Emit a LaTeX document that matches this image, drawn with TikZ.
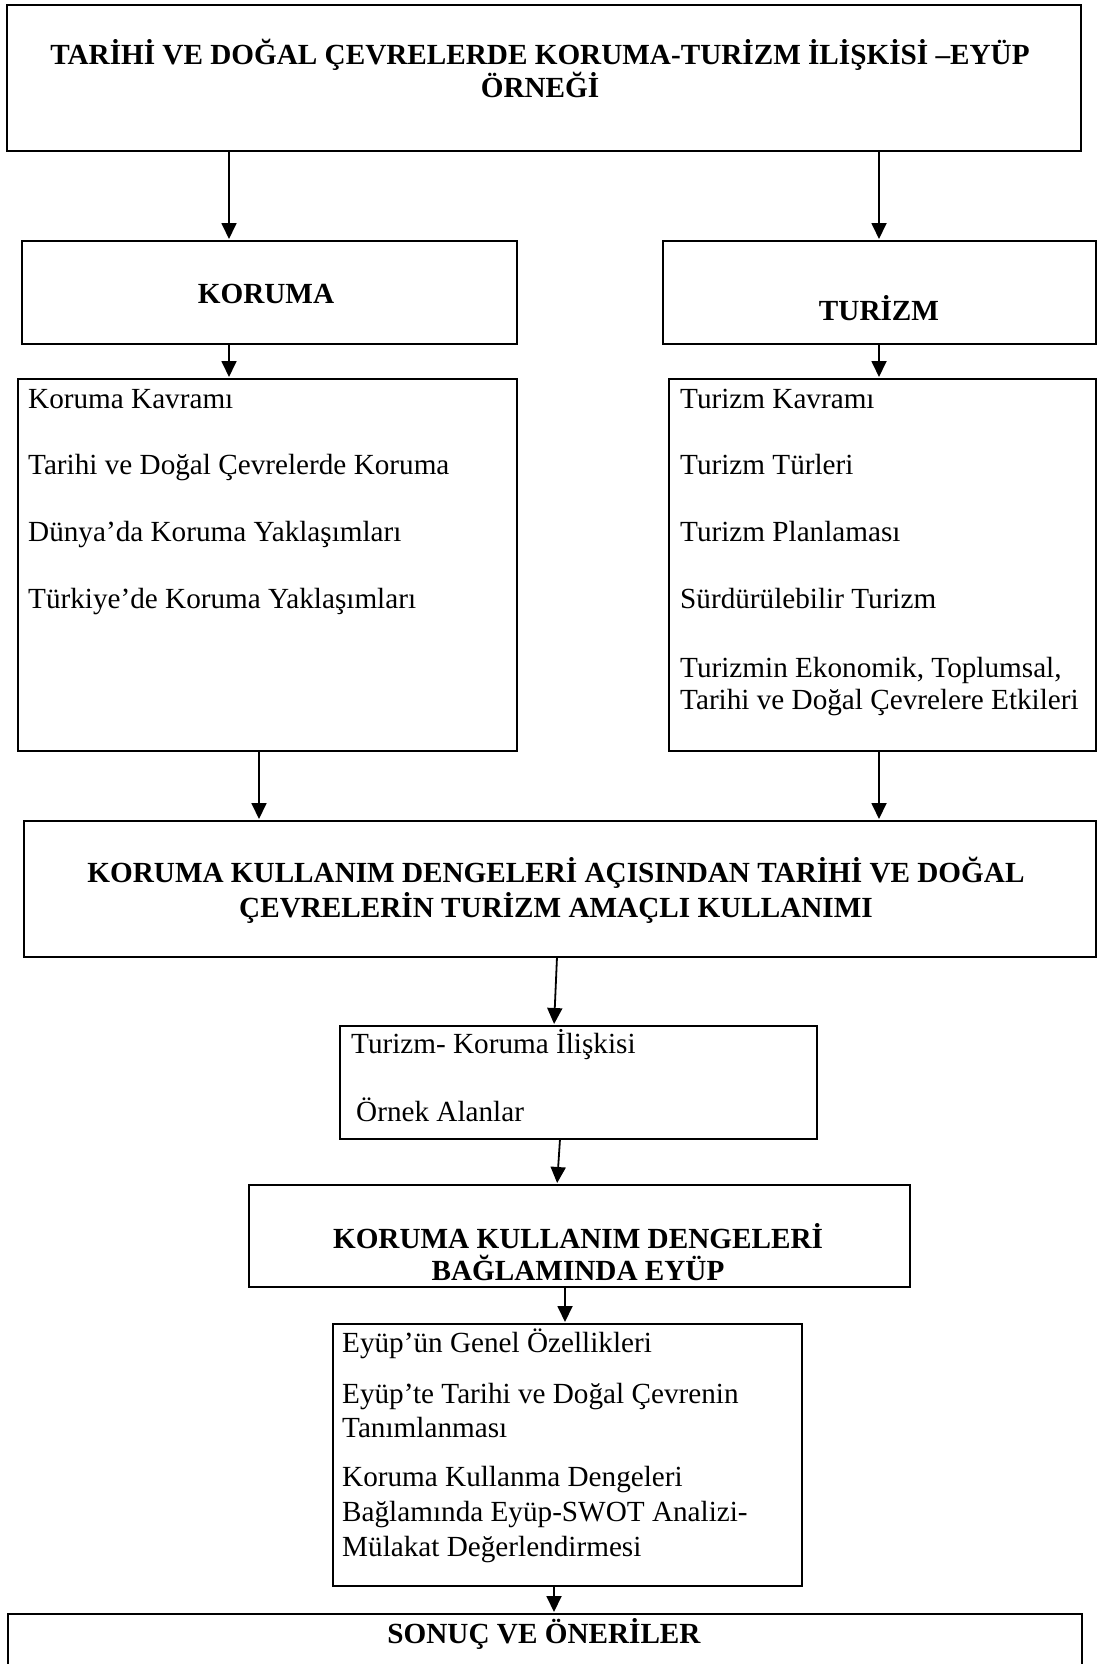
\documentclass[tikz,border=0pt]{standalone}
\usepackage{fontspec}
\setmainfont{Liberation Serif}
\usetikzlibrary{arrows.meta}
\begin{document}
\begin{tikzpicture}[x=1pt,y=-1pt,
  box/.style={draw, line width=1.9pt, rectangle, inner sep=0pt, outer sep=0pt, anchor=north west},
  arr/.style={line width=1.8pt, shorten >=2pt, -{Triangle[length=16pt,width=15pt]}},
  txt/.style={anchor=base west, inner sep=0pt, font=\fontsize{29.2}{33}\selectfont},
  btxt/.style={anchor=base, inner sep=0pt, font=\fontsize{29.2}{33}\selectfont\bfseries},
]
\clip (0,0) rectangle (1098,1664);
\useasboundingbox (0,0) rectangle (1098,1664);

% boxes
\node[box, minimum width=1074pt, minimum height=146pt] (title) at (7,5) {};
\node[box, minimum width=495pt, minimum height=103pt] (koruma) at (22,241) {};
\node[box, minimum width=433pt, minimum height=103pt] (turizm) at (663,241) {};
\node[box, minimum width=499pt, minimum height=372pt] (klist) at (18,379) {};
\node[box, minimum width=427pt, minimum height=372pt] (tlist) at (669,379) {};
\node[box, minimum width=1072pt, minimum height=136pt] (big) at (24,821) {};
\node[box, minimum width=477pt, minimum height=113pt] (tk) at (340,1026) {};
\node[box, minimum width=661pt, minimum height=102pt] (eyup) at (249,1185) {};
\node[box, minimum width=469pt, minimum height=262pt] (elist) at (333,1324) {};
\node[box, minimum width=1074pt, minimum height=70pt] (sonuc) at (8,1614) {};

% texts
\node[btxt] (t1) at (540,65) {TARİHİ VE DOĞAL ÇEVRELERDE KORUMA-TURİZM İLİŞKİSİ –EYÜP};
\node[btxt] (t2) at (540,98) {ÖRNEĞİ};
\node[btxt] (k0) at (266,303) {KORUMA};
\node[btxt] (z0) at (879,320) {TURİZM};

\node[txt] (k1) at (28,408) {Koruma Kavramı};
\node[txt] (k2) at (28,474) {Tarihi ve Doğal Çevrelerde Koruma};
\node[txt] (k3) at (28,541) {Dünya’da Koruma Yaklaşımları};
\node[txt] (k4) at (28,608) {Türkiye’de Koruma Yaklaşımları};

\node[txt] (z1) at (680,408) {Turizm Kavramı};
\node[txt] (z2) at (680,474) {Turizm Türleri};
\node[txt] (z3) at (680,541) {Turizm Planlaması};
\node[txt] (z4) at (680,608) {Sürdürülebilir Turizm};
\node[txt] (z5) at (680,677) {Turizmin Ekonomik, Toplumsal,};
\node[txt] (z6) at (680,709) {Tarihi ve Doğal Çevrelere Etkileri};

\node[btxt] (b1) at (556,882) {KORUMA KULLANIM DENGELERİ AÇISINDAN TARİHİ VE DOĞAL};
\node[btxt] (b2) at (556,917) {ÇEVRELERİN TURİZM AMAÇLI KULLANIMI};

\node[txt] (tk1) at (351,1053) {Turizm- Koruma İlişkisi};
\node[txt] (tk2) at (356,1121) {Örnek Alanlar};

\node[btxt] (e1) at (578,1248) {KORUMA KULLANIM DENGELERİ};
\node[btxt] (e2) at (578,1280) {BAĞLAMINDA EYÜP};

\node[txt] (l1) at (342,1352) {Eyüp’ün Genel Özellikleri};
\node[txt] (l2) at (342,1403) {Eyüp’te Tarihi ve Doğal Çevrenin};
\node[txt] (l3) at (342,1437) {Tanımlanması};
\node[txt] (l4) at (342,1486) {Koruma Kullanma Dengeleri};
\node[txt] (l5) at (342,1521) {Bağlamında Eyüp-SWOT Analizi-};
\node[txt] (l6) at (342,1556) {Mülakat Değerlendirmesi};

\node[btxt] (s1) at (544,1643) {SONUÇ VE ÖNERİLER};

% arrow x positions
\coordinate (xa) at (229,0);
\coordinate (xb) at (879,0);
\coordinate (xc) at (259,0);
\coordinate (xd1) at (557,0);
\coordinate (xd2) at (554,0);
\coordinate (xe1) at (560,0);
\coordinate (xe2) at (557,0);
\coordinate (xf) at (565,0);
\coordinate (xg) at (554,0);

\draw[arr] (title.south -| xa) -- (koruma.north -| xa);
\draw[arr] (title.south -| xb) -- (turizm.north -| xb);
\draw[arr] (koruma.south -| xa) -- (klist.north -| xa);
\draw[arr] (turizm.south -| xb) -- (tlist.north -| xb);
\draw[arr] (klist.south -| xc) -- (big.north -| xc);
\draw[arr] (tlist.south -| xb) -- (big.north -| xb);
\draw[arr] (big.south -| xd1) -- (tk.north -| xd2);
\draw[arr] (tk.south -| xe1) -- (eyup.north -| xe2);
\draw[arr] (eyup.south -| xf) -- (elist.north -| xf);
\draw[arr] (elist.south -| xg) -- (sonuc.north -| xg);
\end{tikzpicture}
\end{document}
